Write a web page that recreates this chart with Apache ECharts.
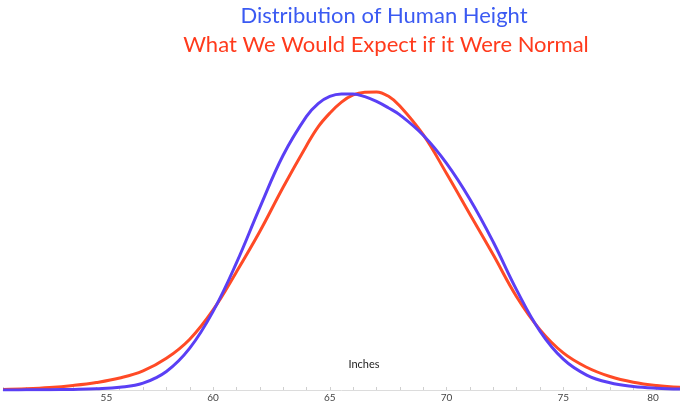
<!DOCTYPE html>
<html style="height: 100%">
<head>
    <meta charset="utf-8">
    <title>Distribution of Human Height</title>
    <script src="https://cdn.jsdelivr.net/npm/echarts@6/dist/echarts.min.js"></script>
</head>
<body style="height: 100%; margin: 0; background: #fff">
    <div id="main" style="width: 680px; height: 403px;"></div>

    <script type="text/javascript">
    // height in inches (half steps near the peak)
    var inches = [51, 52, 53, 54, 55, 56, 57, 58, 59, 60, 61, 62, 63,
                  64, 64.5, 65, 65.5, 66, 66.5, 67, 67.5, 68,
                  69, 70, 71, 72, 73, 74, 75, 76, 77, 78, 79, 80];
    // observed distribution (blue)
    var observed = [0, 0.05, 0.1, 0.2, 0.4, 0.9, 2.3, 6.2, 14, 26.3, 42.5, 61, 78.5,
                    91.5, 95.8, 98.2, 99, 99, 98.1, 96.5, 94.4, 92,
                    85.2, 75.8, 63.8, 49.5, 33.5, 19.7, 10.3, 5, 2.4, 1.2, 0.6, 0.3];
    // normal curve (red)
    var normal = [0.2, 0.4, 0.8, 1.5, 2.5, 4, 6.4, 10.6, 17, 26.8, 39.5, 53, 67.8,
                  81.7, 88, 92.6, 96.3, 98.7, 99.6, 99.7, 98.3, 95,
                  85.4, 72.4, 58.8, 45.2, 31.2, 20.2, 12.4, 7.6, 4.5, 2.6, 1.5, 0.9];
    var tickLabels = [55, 60, 65, 70, 75, 80];

    function pairs(ys) {
        var out = [];
        for (var i = 0; i < inches.length; i++) {
            out.push([inches[i], ys[i]]);
        }
        return out;
    }

    var font = 'Lato, "Open Sans", sans-serif';

    var option = {
        backgroundColor: '#ffffff',
        animation: false,
        grid: {
            left: 1,
            right: -8,
            top: 91,
            bottom: 12
        },
        graphic: [
            {
                type: 'text',
                x: 384, y: 5,
                style: {
                    text: 'Distribution of Human Height',
                    fill: '#3b5af2',
                    font: '22px ' + font,
                    textAlign: 'center'
                }
            },
            {
                type: 'text',
                x: 386, y: 34,
                style: {
                    text: 'What We Would Expect if it Were Normal',
                    fill: '#ff3a1c',
                    font: '22px ' + font,
                    textAlign: 'center'
                }
            },
            {
                type: 'text',
                x: 364, y: 359,
                style: {
                    text: 'Inches',
                    fill: '#222',
                    font: '11px ' + font,
                    textAlign: 'center'
                }
            }
        ],
        xAxis: {
            type: 'value',
            min: 51,
            max: 80,
            interval: 1,
            splitLine: { show: false },
            axisLine: {
                lineStyle: { color: '#dcdcdc', width: 1 }
            },
            axisTick: {
                inside: true,
                length: 3,
                lineStyle: { color: '#cfcfcf' }
            },
            axisLabel: {
                margin: 3,
                fontSize: 10,
                fontFamily: font,
                color: '#444',
                formatter: function (v) {
                    if (tickLabels.indexOf(v) < 0) return '';
                    if (v === 55) return '{a|' + v + '}';
                    if (v === 80) return '{b|' + v + '}';
                    return v;
                },
                rich: {
                    a: { fontSize: 10, color: '#444', padding: [0, 0, 0, 20] },
                    b: { fontSize: 10, color: '#444', padding: [0, 54, 0, 0] }
                }
            }
        },
        yAxis: {
            type: 'value',
            min: 0,
            max: 100,
            show: false
        },
        series: [
            {
                name: 'Normal',
                type: 'line',
                smooth: 0.4,
                symbol: 'none',
                lineStyle: { color: '#ff4a26', width: 3 },
                data: pairs(normal)
            },
            {
                name: 'Observed',
                type: 'line',
                smooth: 0.4,
                symbol: 'none',
                lineStyle: { color: '#5a3ff5', width: 3 },
                data: pairs(observed)
            }
        ]
    };

    var myChart = echarts.init(document.getElementById('main'));
    myChart.setOption(option);
    </script>
</body>
</html>
